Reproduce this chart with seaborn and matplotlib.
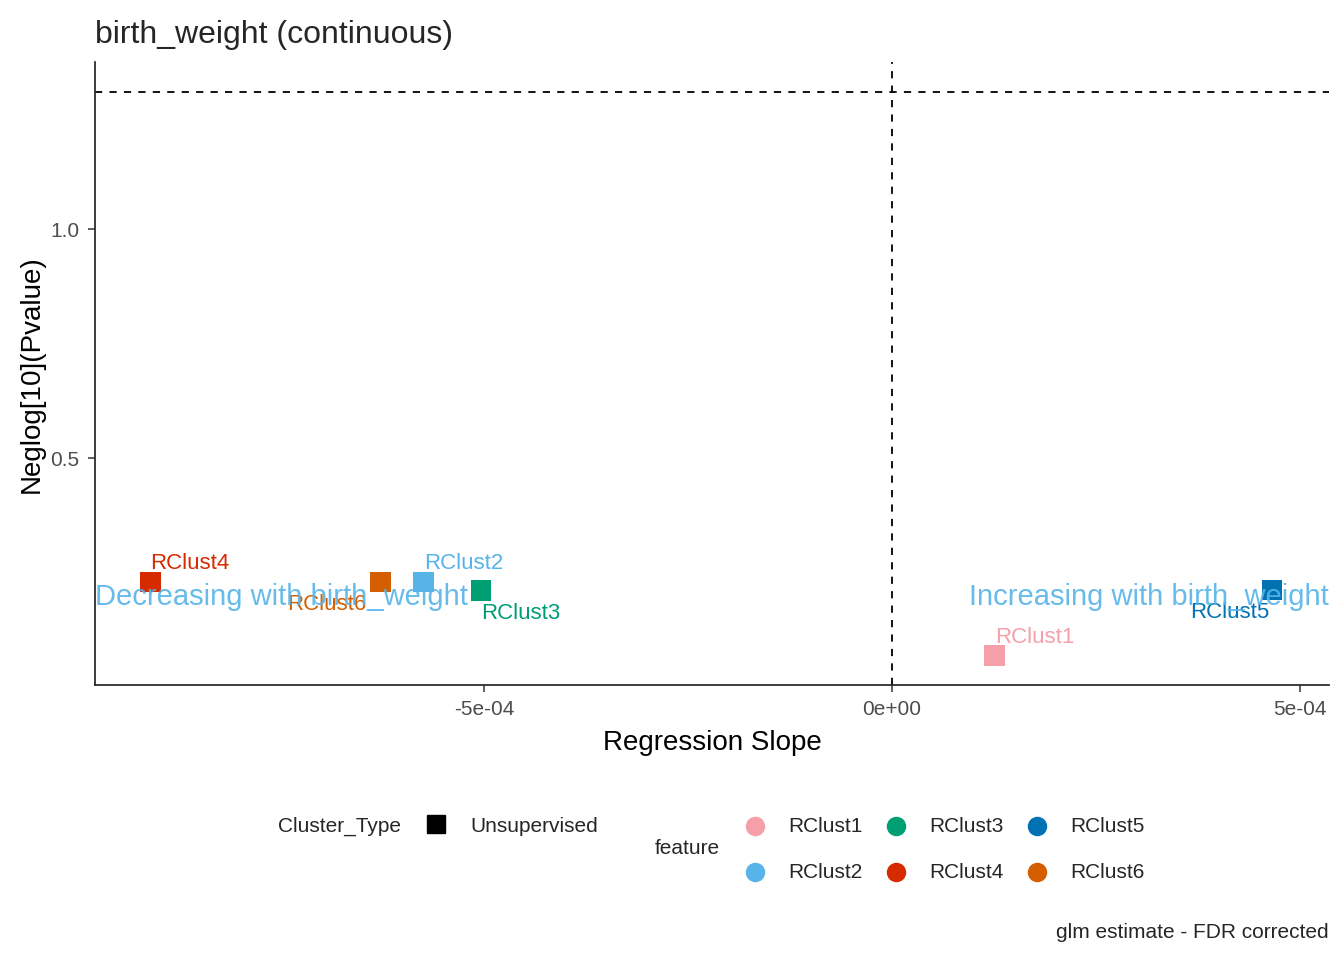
import matplotlib
matplotlib.use("Agg")
import matplotlib.pyplot as plt
import seaborn as sns
import pandas as pd
from matplotlib.lines import Line2D

features = ["RClust1", "RClust2", "RClust3", "RClust4", "RClust5", "RClust6"]
slopes = [1.26e-4, -5.74e-4, -5.04e-4, -9.09e-4, 4.66e-4, -6.27e-4]
neglogp = [0.068, 0.229, 0.21, 0.229, 0.212, 0.229]
colors = ["#F5A0A9", "#56B4E9", "#009E73", "#D62A00", "#0072B2", "#D55E00"]
label_dy = [0.04, 0.04, -0.05, 0.04, -0.05, -0.05]
label_dx = [0.0, 0.0, 0.0, 0.0, -1e-4, -1.15e-4]

sns.set_theme(style="ticks")
plt.rcParams['font.family'] = ['Liberation Sans', 'DejaVu Sans']

df = pd.DataFrame({"feature": features, "slope": slopes, "p": neglogp})
pal = dict(zip(features, colors))

fig = plt.figure(figsize=(13.44, 9.6), dpi=100)
ax = fig.add_axes([0.0707, 0.2865, 0.918, 0.6485])
sns.scatterplot(data=df, x="slope", y="p", hue="feature", palette=pal, marker="s",
                s=220, edgecolor="none", ax=ax, legend=False)
ax.set_xlim(-9.77e-4, 5.355e-4)
ax.set_ylim(0.004, 1.365)
ax.axhline(1.301, ls=(0, (4, 4)), color="black", lw=1.3)
ax.axvline(0, ls=(0, (4, 4)), color="black", lw=1.3)
for f, x, y, c, dy, dx in zip(features, slopes, neglogp, colors, label_dy, label_dx):
    ax.text(x + dx, y + dy, f, color=c, fontsize=16, ha="left", va="center")
ax.text(-9.77e-4, 0.197, "Decreasing with birth_weight", color="#56B4E9", fontsize=21,
        ha="left", va="center", alpha=0.9)
ax.text(5.355e-4, 0.197, "Increasing with birth_weight", color="#56B4E9", fontsize=21,
        ha="right", va="center", alpha=0.9)
ax.set_xticks([-5e-4, 0, 5e-4])
ax.set_xticklabels(["-5e-04", "0e+00", "5e-04"])
ax.set_yticks([0.5, 1.0])
ax.set_yticklabels(["0.5", "1.0"])
ax.tick_params(labelsize=15, colors="#4d4d4d", length=5, pad=6)
for sp in ["top", "right"]:
    ax.spines[sp].set_visible(False)
ax.set_xlabel("Regression Slope", fontsize=20, color="black", labelpad=8)
ax.set_ylabel("Neglog[10](Pvalue)", fontsize=20, color="black", labelpad=4)
ax.set_title("birth_weight (continuous)", fontsize=23, loc="left", x=0.0, pad=14)

# legends
fig.text(278/1344, 1-826/960, "Cluster_Type", fontsize=15, va="center")
fig.add_artist(Line2D([436/1344], [1-824/960], marker="s", color="black", ms=13, ls=""))
fig.text(470/1344, 1-826/960, "Unsupervised", fontsize=15, va="center")
fig.text(655/1344, 1-849/960, "feature", fontsize=15, va="center")
pos = [(755, 826), (755, 872), (896, 826), (896, 872), (1037, 826), (1037, 872)]
for f, c, (px, py) in zip(features, colors, pos):
    fig.add_artist(Line2D([px/1344], [1-py/960], marker="o", color=c, ms=13, ls=""))
    fig.text((px+33)/1344, 1-py/960, f, fontsize=15, va="center")
fig.text(1329/1344, 1-933/960, "glm estimate - FDR corrected", fontsize=15, ha="right", va="center")

fig.savefig("out.png", dpi=100)
